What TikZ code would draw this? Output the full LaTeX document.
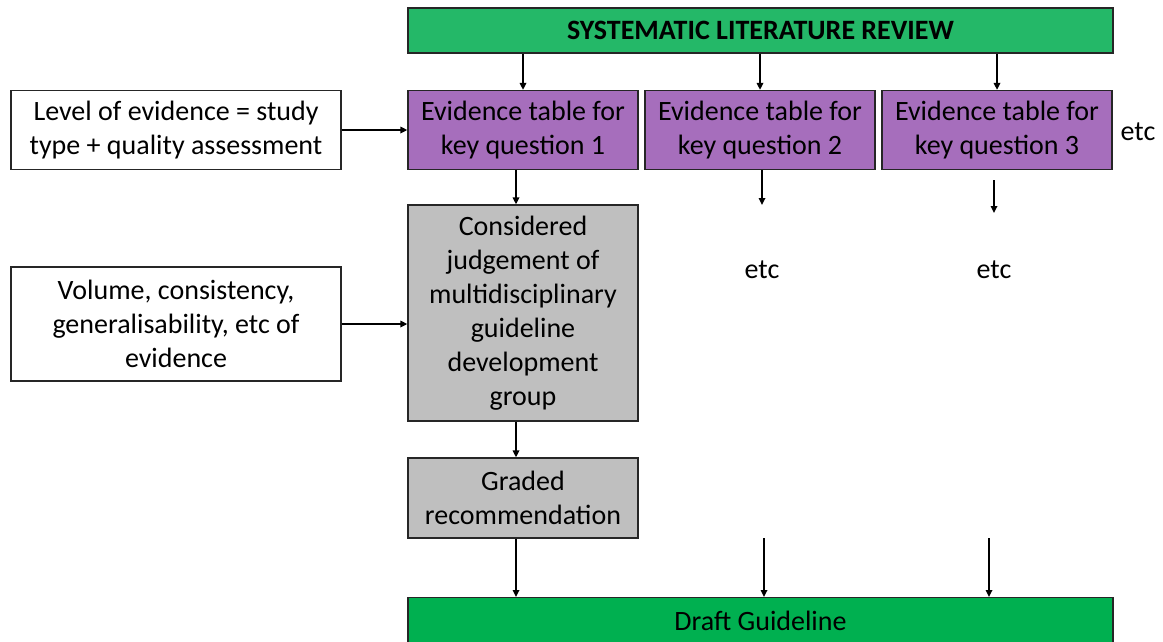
\documentclass[tikz,border=0pt]{standalone}
\usepackage{fontspec}
\setmainfont{Carlito}
\usetikzlibrary{arrows.meta}
\definecolor{revgreen}{RGB}{36,184,104}
\definecolor{draftgreen}{RGB}{0,176,80}
\definecolor{tablepurple}{RGB}{166,110,188}
\definecolor{judggray}{RGB}{191,191,191}
\tikzset{
  box/.style={draw=black!85,line width=1.3pt,align=center,inner sep=0pt,
    font=\fontsize{28}{34}\selectfont},
  arr/.style={-{Triangle[length=7pt,width=6.5pt]},line width=1.6pt},
}
\begin{document}
\begin{tikzpicture}[x=1pt,y=-1pt]
  \useasboundingbox (0,0) rectangle (1163,641);
  % top and bottom bars
  \node[box,fill=revgreen,minimum width=705pt,minimum height=45pt,
    font=\fontsize{28}{30}\selectfont\bfseries] (review) at (760.5,30.5) {SYSTEMATIC LITERATURE REVIEW};
  \node[box,fill=draftgreen,minimum width=705pt,minimum height=56pt,anchor=north] (draft) at (760.5,597) {\raisebox{10pt}{Draft Guideline}};
  % evidence tables
  \node[box,fill=tablepurple,minimum width=230pt,minimum height=79pt] (kq1) at (523,130) {Evidence table for\\key question 1};
  \node[box,fill=tablepurple,minimum width=230pt,minimum height=79pt] (kq2) at (760,130) {Evidence table for\\key question 2};
  \node[box,fill=tablepurple,minimum width=230pt,minimum height=79pt] (kq3) at (997,130) {Evidence table for\\key question 3};
  \node[font=\fontsize{28}{34}\selectfont] (etcr) at (1138,132) {etc};
  % inputs on the left
  \node[box,fill=white,minimum width=330pt,minimum height=79pt] (level) at (176,130) {Level of evidence = study\\type + quality assessment};
  \node[box,fill=white,minimum width=330pt,minimum height=114pt] (volume) at (176,324) {Volume, consistency,\\generalisability, etc of\\evidence};
  % judgement and recommendation
  \node[box,fill=judggray,minimum width=230pt,minimum height=216pt] (judge) at (523,313) {Considered\\judgement of\\multidisciplinary\\guideline\\development\\group};
  \node[box,fill=judggray,minimum width=230pt,minimum height=80pt] (graded) at (523,498) {Graded\\recommendation};
  \node[font=\fontsize{28}{34}\selectfont] (etc2) at (762,270) {etc};
  \node[font=\fontsize{28}{34}\selectfont] (etc3) at (994,270) {etc};
  % free arrow ends
  \coordinate (a2) at (762,205);
  \coordinate (s3) at (994,180);
  \coordinate (a3) at (994,213);
  \coordinate (d2) at (764,538);
  \coordinate (d3) at (989,538);
  % connectors
  \draw[arr] (review.south -| kq1) -- (kq1);
  \draw[arr] (review.south -| kq2) -- (kq2);
  \draw[arr] (review.south -| kq3) -- (kq3);
  \draw[arr] (level) -- (kq1);
  \draw[arr] (volume) -- (judge.west |- volume);
  \draw[arr] (kq1.south -| 516,0) -- (judge.north -| 516,0);
  \draw[arr] (kq2.south -| a2) -- (a2);
  \draw[arr] (s3) -- (a3);
  \draw[arr] (judge.south -| 516,0) -- (graded.north -| 516,0);
  \draw[arr] (graded.south -| 516,0) -- (draft.north -| 516,0);
  \draw[arr] (d2) -- (draft.north -| d2);
  \draw[arr] (d3) -- (draft.north -| d3);
\end{tikzpicture}
\end{document}
